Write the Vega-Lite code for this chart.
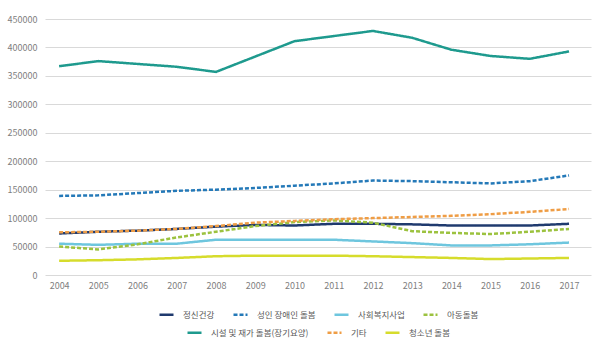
{
  "$schema": "https://vega.github.io/schema/vega-lite/v6.json",
  "width": 546,
  "height": 256,
  "autosize": {"type": "none"},
  "padding": {"left": 45, "top": 19, "right": 9, "bottom": 84},
  "background": "white",
  "config": {
    "view": {"stroke": null},
    "font": "Noto Sans CJK KR",
    "axis": {"labelFont": "Noto Sans CJK KR", "labelColor": "#808080", "labelFontSize": 9},
    "legend": {
      "labelFont": "Noto Sans CJK KR",
      "labelColor": "#595959",
      "labelFontSize": 8.5,
      "layout": {"bottom": {"anchor": "middle", "direction": "vertical", "center": true, "margin": 4}}
    }
  },
  "data": {
    "values": [
      {"year": 2004, "series": "정신건강", "value": 73000},
      {"year": 2005, "series": "정신건강", "value": 76000},
      {"year": 2006, "series": "정신건강", "value": 78000},
      {"year": 2007, "series": "정신건강", "value": 81000},
      {"year": 2008, "series": "정신건강", "value": 85000},
      {"year": 2009, "series": "정신건강", "value": 88000},
      {"year": 2010, "series": "정신건강", "value": 87000},
      {"year": 2011, "series": "정신건강", "value": 90000},
      {"year": 2012, "series": "정신건강", "value": 90000},
      {"year": 2013, "series": "정신건강", "value": 89000},
      {"year": 2014, "series": "정신건강", "value": 87000},
      {"year": 2015, "series": "정신건강", "value": 87000},
      {"year": 2016, "series": "정신건강", "value": 87000},
      {"year": 2017, "series": "정신건강", "value": 90000},

      {"year": 2004, "series": "성인 장애인 돌봄", "value": 139000},
      {"year": 2005, "series": "성인 장애인 돌봄", "value": 140000},
      {"year": 2006, "series": "성인 장애인 돌봄", "value": 144000},
      {"year": 2007, "series": "성인 장애인 돌봄", "value": 148000},
      {"year": 2008, "series": "성인 장애인 돌봄", "value": 150000},
      {"year": 2009, "series": "성인 장애인 돌봄", "value": 153000},
      {"year": 2010, "series": "성인 장애인 돌봄", "value": 157000},
      {"year": 2011, "series": "성인 장애인 돌봄", "value": 161000},
      {"year": 2012, "series": "성인 장애인 돌봄", "value": 166000},
      {"year": 2013, "series": "성인 장애인 돌봄", "value": 165000},
      {"year": 2014, "series": "성인 장애인 돌봄", "value": 163000},
      {"year": 2015, "series": "성인 장애인 돌봄", "value": 161000},
      {"year": 2016, "series": "성인 장애인 돌봄", "value": 165000},
      {"year": 2017, "series": "성인 장애인 돌봄", "value": 175000},

      {"year": 2004, "series": "사회복지사업", "value": 55000},
      {"year": 2005, "series": "사회복지사업", "value": 53000},
      {"year": 2006, "series": "사회복지사업", "value": 55000},
      {"year": 2007, "series": "사회복지사업", "value": 55000},
      {"year": 2008, "series": "사회복지사업", "value": 62000},
      {"year": 2009, "series": "사회복지사업", "value": 62000},
      {"year": 2010, "series": "사회복지사업", "value": 62000},
      {"year": 2011, "series": "사회복지사업", "value": 62000},
      {"year": 2012, "series": "사회복지사업", "value": 59000},
      {"year": 2013, "series": "사회복지사업", "value": 56000},
      {"year": 2014, "series": "사회복지사업", "value": 52000},
      {"year": 2015, "series": "사회복지사업", "value": 52000},
      {"year": 2016, "series": "사회복지사업", "value": 54000},
      {"year": 2017, "series": "사회복지사업", "value": 57000},

      {"year": 2004, "series": "아동돌봄", "value": 50000},
      {"year": 2005, "series": "아동돌봄", "value": 45000},
      {"year": 2006, "series": "아동돌봄", "value": 54000},
      {"year": 2007, "series": "아동돌봄", "value": 66000},
      {"year": 2008, "series": "아동돌봄", "value": 76000},
      {"year": 2009, "series": "아동돌봄", "value": 86000},
      {"year": 2010, "series": "아동돌봄", "value": 93000},
      {"year": 2011, "series": "아동돌봄", "value": 96000},
      {"year": 2012, "series": "아동돌봄", "value": 92000},
      {"year": 2013, "series": "아동돌봄", "value": 77000},
      {"year": 2014, "series": "아동돌봄", "value": 74000},
      {"year": 2015, "series": "아동돌봄", "value": 72000},
      {"year": 2016, "series": "아동돌봄", "value": 76000},
      {"year": 2017, "series": "아동돌봄", "value": 81000},

      {"year": 2004, "series": "시설 및 재가 돌봄(장기요양)", "value": 367000},
      {"year": 2005, "series": "시설 및 재가 돌봄(장기요양)", "value": 376000},
      {"year": 2006, "series": "시설 및 재가 돌봄(장기요양)", "value": 371000},
      {"year": 2007, "series": "시설 및 재가 돌봄(장기요양)", "value": 366000},
      {"year": 2008, "series": "시설 및 재가 돌봄(장기요양)", "value": 357000},
      {"year": 2009, "series": "시설 및 재가 돌봄(장기요양)", "value": 384000},
      {"year": 2010, "series": "시설 및 재가 돌봄(장기요양)", "value": 411000},
      {"year": 2011, "series": "시설 및 재가 돌봄(장기요양)", "value": 420000},
      {"year": 2012, "series": "시설 및 재가 돌봄(장기요양)", "value": 429000},
      {"year": 2013, "series": "시설 및 재가 돌봄(장기요양)", "value": 417000},
      {"year": 2014, "series": "시설 및 재가 돌봄(장기요양)", "value": 396000},
      {"year": 2015, "series": "시설 및 재가 돌봄(장기요양)", "value": 385000},
      {"year": 2016, "series": "시설 및 재가 돌봄(장기요양)", "value": 380000},
      {"year": 2017, "series": "시설 및 재가 돌봄(장기요양)", "value": 393000},

      {"year": 2004, "series": "기타", "value": 75000},
      {"year": 2005, "series": "기타", "value": 76000},
      {"year": 2006, "series": "기타", "value": 78000},
      {"year": 2007, "series": "기타", "value": 81000},
      {"year": 2008, "series": "기타", "value": 86000},
      {"year": 2009, "series": "기타", "value": 92000},
      {"year": 2010, "series": "기타", "value": 95000},
      {"year": 2011, "series": "기타", "value": 98000},
      {"year": 2012, "series": "기타", "value": 100000},
      {"year": 2013, "series": "기타", "value": 102000},
      {"year": 2014, "series": "기타", "value": 104000},
      {"year": 2015, "series": "기타", "value": 107000},
      {"year": 2016, "series": "기타", "value": 111000},
      {"year": 2017, "series": "기타", "value": 116000},

      {"year": 2004, "series": "청소년 돌봄", "value": 25000},
      {"year": 2005, "series": "청소년 돌봄", "value": 26000},
      {"year": 2006, "series": "청소년 돌봄", "value": 27500},
      {"year": 2007, "series": "청소년 돌봄", "value": 30000},
      {"year": 2008, "series": "청소년 돌봄", "value": 33000},
      {"year": 2009, "series": "청소년 돌봄", "value": 34000},
      {"year": 2010, "series": "청소년 돌봄", "value": 34000},
      {"year": 2011, "series": "청소년 돌봄", "value": 34000},
      {"year": 2012, "series": "청소년 돌봄", "value": 33000},
      {"year": 2013, "series": "청소년 돌봄", "value": 31500},
      {"year": 2014, "series": "청소년 돌봄", "value": 30000},
      {"year": 2015, "series": "청소년 돌봄", "value": 28000},
      {"year": 2016, "series": "청소년 돌봄", "value": 29000},
      {"year": 2017, "series": "청소년 돌봄", "value": 30000}
    ]
  },
  "encoding": {
    "x": {
      "field": "year",
      "type": "quantitative",
      "scale": {"domain": [2003.64, 2017.56], "nice": false, "zero": false},
      "axis": {
        "values": [2004, 2005, 2006, 2007, 2008, 2009, 2010, 2011, 2012, 2013, 2014, 2015, 2016, 2017],
        "format": "d",
        "title": null,
        "grid": false,
        "domain": false,
        "ticks": false,
        "labelPadding": 6
      }
    },
    "y": {
      "field": "value",
      "type": "quantitative",
      "scale": {"domain": [0, 450000], "nice": false},
      "axis": {
        "values": [0, 50000, 100000, 150000, 200000, 250000, 300000, 350000, 400000, 450000],
        "format": "d",
        "title": null,
        "domain": false,
        "ticks": false,
        "labelPadding": 8,
        "gridColor": "#d9d9d9",
        "gridWidth": 1.2
      }
    }
  },
  "layer": [
    {
      "transform": [{"filter": {"field": "series", "oneOf": ["정신건강", "성인 장애인 돌봄", "사회복지사업", "아동돌봄"]}}],
      "mark": {"type": "line", "strokeWidth": 2.5, "interpolate": "linear"},
      "encoding": {
        "color": {
          "field": "series",
          "type": "nominal",
          "scale": {
            "domain": ["정신건강", "성인 장애인 돌봄", "사회복지사업", "아동돌봄"],
            "range": ["#1f3a6e", "#2479b8", "#6ec6de", "#9cc23f"]
          },
          "legend": {
            "title": null, "orient": "bottom", "direction": "horizontal",
            "symbolType": "stroke", "symbolSize": 196, "symbolStrokeWidth": 2.5,
            "labelOffset": 8, "columnPadding": 13, "offset": 16
          }
        },
        "strokeDash": {
          "field": "series",
          "type": "nominal",
          "scale": {
            "domain": ["정신건강", "성인 장애인 돌봄", "사회복지사업", "아동돌봄"],
            "range": [[1, 0], [4, 2], [1, 0], [4, 2]]
          },
          "legend": {
            "title": null, "orient": "bottom", "direction": "horizontal",
            "symbolType": "stroke", "symbolSize": 196, "symbolStrokeWidth": 2.5,
            "labelOffset": 8, "columnPadding": 13, "offset": 16
          }
        }
      }
    },
    {
      "transform": [{"filter": {"field": "series", "oneOf": ["시설 및 재가 돌봄(장기요양)", "기타", "청소년 돌봄"]}}],
      "mark": {"type": "line", "strokeWidth": 2.5, "interpolate": "linear"},
      "encoding": {
        "color": {
          "field": "series",
          "type": "nominal",
          "scale": {
            "domain": ["시설 및 재가 돌봄(장기요양)", "기타", "청소년 돌봄"],
            "range": ["#1e9a8e", "#ef9d45", "#d6dc2c"]
          },
          "legend": {
            "title": null, "orient": "bottom", "direction": "horizontal",
            "symbolType": "stroke", "symbolSize": 196, "symbolStrokeWidth": 2.5,
            "labelOffset": 8, "columnPadding": 13, "offset": 16
          }
        },
        "strokeDash": {
          "field": "series",
          "type": "nominal",
          "scale": {
            "domain": ["시설 및 재가 돌봄(장기요양)", "기타", "청소년 돌봄"],
            "range": [[1, 0], [4, 2], [1, 0]]
          },
          "legend": {
            "title": null, "orient": "bottom", "direction": "horizontal",
            "symbolType": "stroke", "symbolSize": 196, "symbolStrokeWidth": 2.5,
            "labelOffset": 8, "columnPadding": 13, "offset": 16
          }
        }
      }
    }
  ],
  "resolve": {"scale": {"color": "independent", "strokeDash": "independent"}}
}
